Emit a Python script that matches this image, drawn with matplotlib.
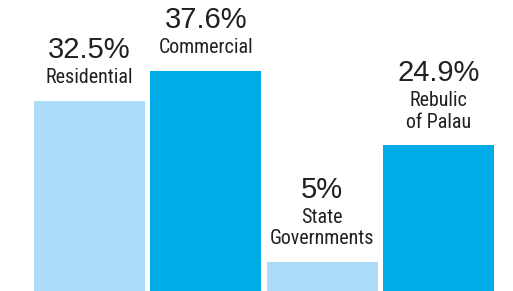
import matplotlib
matplotlib.use("Agg")
import matplotlib.pyplot as plt

categories = ["Residential", "Commercial", "State\nGovernments", "Rebulic\nof Palau"]
values = [32.5, 37.6, 5.0, 24.9]
value_labels = ["32.5%", "37.6%", "5%", "24.9%"]
colors = ["#acdcf7", "#00ace6", "#acdcf7", "#00ace6"]

W, H = 513, 291
fig = plt.figure(figsize=(W / 100, H / 100), dpi=100)
ax = fig.add_axes([34 / W, 0, 460 / W, 1])
x = list(range(len(values)))
bw = 111 / 116
ax.bar(x, values, width=bw, color=colors, linewidth=0)
ax.set_xlim(-bw / 2, 3 + bw / 2)
ax.set_ylim(0, 291 / 5.855)
ax.axis("off")

px = 0.72  # points per pixel
txt_color = "#231f20"
for i, (v, cat, vl) in enumerate(zip(values, categories, value_labels)):
    lines = cat.split("\n")
    base = 17.5
    for k, line in enumerate(reversed(lines)):
        ax.annotate(line, (i, v), xytext=(0, (base + 21.5 * k) * px),
                    textcoords="offset points", ha="center", va="baseline",
                    fontsize=14.4, family="Roboto Condensed",
                    color=txt_color)
    top = base + 21.5 * (len(lines) - 1) + 25
    ax.annotate(vl, (i, v), xytext=(0, top * px), textcoords="offset points",
                ha="center", va="baseline", fontsize=21,
                family="Liberation Sans", color=txt_color)

fig.savefig("out.png", dpi=100)
